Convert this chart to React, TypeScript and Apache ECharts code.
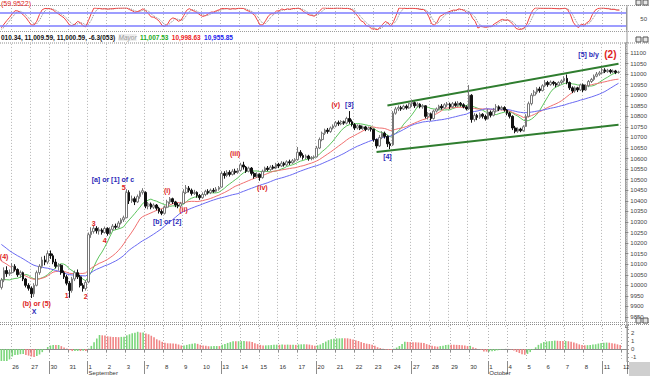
import React, { useEffect, useRef } from "react";
import * as echarts from "echarts";

// ---------- data ----------
const sessionDays = ["Aug 25","Aug 26","Aug 27","Aug 30","Aug 31","Sep 1","Sep 2","Sep 3","Sep 7","Sep 8","Sep 9","Sep 10","Sep 13","Sep 14","Sep 15","Sep 16","Sep 17","Sep 20","Sep 21","Sep 22","Sep 23","Sep 24","Sep 27","Sep 28","Sep 29","Sep 30","Oct 1","Oct 4","Oct 5","Oct 6","Oct 7","Oct 8","Oct 11","Oct 12"];
const sessionHours = ["09:30","10:30","11:30","12:30","13:30","14:30","15:30"];
const monthNames: Record<string, string> = { Sep: "September", Oct: "October" };
const weekStartDays = ["Aug 30","Sep 1","Sep 7","Sep 13","Sep 20","Sep 27","Oct 1","Oct 4","Oct 11"];

// hourly closes before the visible window (used for the indicator look-back)
const warmupCloses = [10420,10400,10410,10415,
  10390,10350,10320,10300,10290,10280,10271,
  10240,10220,10200,10190,10210,10205,10213,
  10240,10250,10230,10210,10200,10185,10174,
  10100,10080,10060,10070,10050,10045,10040,
  10000,9960,9950];

// hourly bars: [open, close, low, high]
const ohlc: number[][] = [
  // Aug 25
  [9990,10025,9980,10035],[10025,10070,10015,10085],[10070,10055,10040,10090],[10055,10060,10045,10075],
  // Aug 26
  [10060,10090,10055,10105],[10090,10075,10065,10100],[10075,10050,10040,10080],[10050,10060,10035,10070],[10060,10030,10020,10065],[10030,10000,9990,10035],[10000,9986,9975,10010],
  // Aug 27
  [9986,9960,9940,9995],[9960,10000,9945,10010],[10000,10060,9995,10070],[10060,10090,10050,10100],[10090,10120,10080,10135],[10120,10110,10095,10140],[10110,10150,10100,10165],
  // Aug 30
  [10150,10140,10125,10165],[10140,10110,10100,10150],[10110,10090,10080,10125],[10090,10095,10070,10105],[10095,10060,10050,10100],[10060,10040,10030,10070],[10040,10010,10000,10050],
  // Aug 31
  [10010,9975,9941,10020],[9975,10030,9965,10040],[10030,10060,10020,10070],[10060,10040,10030,10075],[10040,10000,9990,10050],[10000,9985,9970,10010],[9985,10014,9975,10025],
  // Sep 1
  [10016,10240,10010,10250],[10240,10255,10225,10275],[10255,10270,10245,10285],[10270,10258,10245,10280],[10258,10262,10240,10275],[10262,10250,10240,10270],[10250,10269,10245,10278],
  // Sep 2
  [10269,10245,10235,10275],[10245,10265,10240,10275],[10265,10280,10258,10290],[10280,10275,10265,10292],[10275,10295,10270,10305],[10295,10310,10288,10318],[10310,10320,10300,10330],
  // Sep 3
  [10320,10440,10318,10455],[10440,10400,10385,10450],[10400,10410,10390,10425],[10410,10395,10380,10420],[10395,10420,10390,10430],[10420,10440,10410,10448],[10440,10448,10430,10460],
  // Sep 7
  [10440,10375,10365,10445],[10375,10385,10360,10395],[10385,10370,10360,10392],[10370,10380,10362,10388],[10380,10365,10355,10385],[10365,10350,10340,10372],[10350,10341,10332,10360],
  // Sep 8
  [10341,10370,10335,10378],[10370,10395,10365,10405],[10395,10410,10385,10418],[10410,10395,10385,10415],[10395,10380,10370,10400],[10380,10375,10365,10390],[10375,10387,10368,10395],
  // Sep 9
  [10387,10440,10385,10455],[10440,10460,10432,10475],[10460,10450,10440,10470],[10450,10435,10425,10458],[10435,10440,10428,10452],[10440,10425,10415,10445],[10425,10415,10405,10432],
  // Sep 10
  [10415,10430,10410,10440],[10430,10445,10422,10452],[10445,10438,10430,10455],[10438,10450,10432,10458],[10450,10445,10438,10460],[10445,10455,10440,10465],[10455,10463,10448,10470],
  // Sep 13
  [10465,10530,10462,10540],[10530,10520,10505,10540],[10520,10535,10512,10545],[10535,10525,10515,10545],[10525,10540,10520,10550],[10540,10535,10525,10552],[10535,10544,10528,10555],
  // Sep 14
  [10544,10570,10538,10580],[10570,10560,10548,10585],[10560,10540,10532,10565],[10540,10555,10535,10562],[10555,10530,10520,10560],[10530,10515,10505,10538],[10515,10526,10508,10535],
  // Sep 15
  [10526,10510,10495,10530],[10510,10540,10505,10548],[10540,10555,10535,10562],[10555,10548,10540,10565],[10548,10560,10542,10568],[10560,10555,10548,10570],[10555,10573,10550,10580],
  // Sep 16
  [10573,10565,10555,10580],[10565,10578,10560,10588],[10578,10570,10562,10585],[10570,10585,10565,10592],[10585,10580,10570,10595],[10580,10590,10575,10598],[10590,10595,10582,10602],
  // Sep 17
  [10595,10630,10590,10655],[10630,10615,10605,10640],[10615,10605,10595,10625],[10605,10612,10598,10620],[10612,10600,10590,10618],[10600,10605,10592,10612],[10605,10608,10596,10615],
  // Sep 20
  [10608,10650,10605,10660],[10650,10690,10645,10700],[10690,10720,10682,10728],[10720,10735,10712,10742],[10735,10728,10718,10745],[10728,10745,10722,10752],[10745,10754,10738,10762],
  // Sep 21
  [10754,10770,10748,10778],[10770,10765,10755,10780],[10765,10775,10758,10782],[10775,10768,10760,10780],[10768,10790,10762,10798],[10790,10775,10765,10825],[10775,10761,10752,10785],
  // Sep 22
  [10761,10745,10735,10768],[10745,10755,10738,10762],[10755,10742,10735,10760],[10742,10750,10736,10756],[10750,10738,10730,10755],[10738,10745,10732,10752],[10745,10739,10728,10750],
  // Sep 23
  [10739,10690,10680,10742],[10690,10660,10648,10695],[10660,10700,10655,10712],[10700,10720,10692,10730],[10720,10705,10695,10728],[10705,10670,10655,10710],[10670,10662,10645,10680],
  // Sep 24
  [10665,10815,10660,10825],[10815,10835,10808,10845],[10835,10842,10825,10852],[10842,10835,10826,10850],[10835,10848,10830,10855],[10848,10840,10832,10856],[10840,10860,10836,10865],
  // Sep 27
  [10860,10865,10845,10880],[10865,10850,10840,10870],[10850,10858,10842,10866],[10858,10845,10838,10862],[10845,10850,10836,10858],[10850,10800,10790,10852],[10800,10812,10785,10820],
  // Sep 28
  [10812,10790,10780,10818],[10790,10825,10785,10832],[10825,10835,10818,10842],[10835,10848,10828,10855],[10848,10840,10832,10858],[10840,10855,10836,10862],[10855,10858,10845,10868],
  // Sep 29
  [10858,10845,10835,10865],[10845,10860,10840,10868],[10860,10852,10845,10870],[10852,10862,10846,10872],[10862,10855,10846,10868],[10855,10845,10838,10862],[10845,10835,10828,10852],
  // Sep 30
  [10835,10900,10830,10948],[10900,10785,10770,10905],[10785,10805,10775,10815],[10805,10795,10782,10812],[10795,10810,10788,10818],[10810,10800,10790,10815],[10800,10788,10780,10808],
  // Oct 1
  [10788,10820,10785,10835],[10820,10805,10795,10828],[10805,10825,10800,10840],[10825,10845,10818,10858],[10845,10835,10825,10852],[10835,10842,10828,10850],[10842,10830,10822,10848],
  // Oct 4
  [10830,10815,10805,10835],[10815,10800,10790,10822],[10800,10745,10735,10805],[10745,10730,10720,10755],[10730,10740,10722,10748],[10740,10732,10725,10746],[10732,10751,10728,10758],
  // Oct 5
  [10752,10800,10750,10810],[10800,10860,10795,10870],[10860,10900,10852,10910],[10900,10915,10895,10925],[10915,10930,10905,10938],[10930,10922,10912,10940],[10922,10945,10918,10952],
  // Oct 6
  [10945,10960,10938,10972],[10960,10950,10940,10968],[10950,10962,10945,10970],[10962,10955,10946,10968],[10955,10948,10938,10962],[10948,10960,10942,10966],[10960,10968,10952,10975],
  // Oct 7
  [10968,10980,10960,10990],[10980,10960,10952,10998],[10960,10935,10925,10965],[10935,10920,10910,10942],[10920,10935,10912,10942],[10935,10925,10915,10940],[10925,10949,10920,10955],
  // Oct 8
  [10949,10925,10915,10955],[10925,10945,10920,10952],[10945,10965,10938,10972],[10965,10975,10958,10982],[10975,10990,10968,10998],[10990,11000,10985,11010],[11000,11006,10992,11015],
  // Oct 11
  [11006,11020,11000,11032],[11020,11012,11005,11028],[11012,11018,11006,11025],[11018,11010,11002,11024],[11010,11015,11004,11022],[11015,11008,11000,11020],[11008,11010,11002,11016],
];

// moving-average periods (green, red, blue)
const maPeriods = [10, 20, 35];
const stochPeriod = 14;
const oscFast = 5;
const oscSlow = 35;

// trend channel end points: [bar index, price]
const channelUpper = [[142, 10851], [227, 11049]];
const channelLower = [[138, 10631], [227, 10760]];

// wave annotations: [bar index, price, text, colour key]
const waveLabels: [number, number, string, string][] = [
  [1, 10135, "(4)", "r"],
  [13, 9915, "(b) or (5)", "r"],
  [12, 9878, "X", "b"],
  [24, 9950, "1", "r"],
  [31, 9945, "2", "r"],
  [34, 10295, "3", "r"],
  [38, 10210, "4", "r"],
  [41, 10499, "[a] or [1] of c", "b"],
  [45, 10465, "5", "r"],
  [61, 10451, "(i)", "r"],
  [61, 10300, "[b] or [2]", "b"],
  [67, 10357, "(ii)", "r"],
  [86, 10622, "(iii)", "r"],
  [96, 10465, "(iv)", "r"],
  [123, 10858, "(v)", "r"],
  [128, 10858, "[3]", "b"],
  [142, 10612, "[4]", "b"],
  [216, 11095, "[5] b/y", "b"],
];
const bigLabel: [number, number, string] = [224, 11095, "(2)"];

const legendValues = ["010.34, 11,009.59, 11,000.59, -6.3(053)", "Mayor", "11,007.53", "10,998.63", "10,955.85"];
const headerValue = "(59.9522)";

// ---------- derived ----------
const categories: string[] = [];
sessionDays.forEach((d, k) => {
  const hrs = k === 0 ? sessionHours.slice(3) : k === sessionDays.length - 1 ? sessionHours.slice(0, 2) : sessionHours;
  hrs.forEach((h) => categories.push(`${d} ${h}`));
});
const isDayStart = (i: number) => !!categories[i] && categories[i].endsWith("09:30");
const isWeekStart = (i: number) => isDayStart(i) && weekStartDays.includes(categories[i].slice(0, -6));
const isMonthStart = (i: number) => isDayStart(i) && categories[i].split(" ")[1] === "1";

const closes = ohlc.map((b) => b[1]);
const allCloses = [...warmupCloses, ...closes];
const W = warmupCloses.length;
const pad = categories.length - ohlc.length;

function sma(n: number): number[] {
  return closes.map((_, i) => {
    const j = W + i;
    let s = 0;
    for (let k = j - n + 1; k <= j; k++) s += allCloses[k];
    return +(s / n).toFixed(2);
  });
}
function smooth(arr: (number | null)[], n: number): (number | null)[] {
  return arr.map((_, j) => {
    if (j < n - 1) return null;
    const w = arr.slice(j - n + 1, j + 1);
    if (w.some((x) => x == null)) return null;
    return (w as number[]).reduce((a, b) => a + b, 0) / n;
  });
}
const rawK: (number | null)[] = allCloses.map((c, j) => {
  if (j < stochPeriod - 1) return null;
  const win = allCloses.slice(j - stochPeriod + 1, j + 1);
  const lo = Math.min(...win), hi = Math.max(...win);
  return hi === lo ? 50 : ((c - lo) / (hi - lo)) * 100;
});
const kLine = smooth(rawK, 3);
const dLine = smooth(kLine, 3);
const kVis = kLine.slice(W).map((v) => (v == null ? "-" : +v.toFixed(2)));
const dVis = dLine.slice(W).map((v) => (v == null ? "-" : +v.toFixed(2)));

const maLines = maPeriods.map((p) => sma(p));
const fast = sma(oscFast), slow = sma(oscSlow);
const osc = fast.map((f, i) => +(((f - slow[i]) / slow[i]) * 100).toFixed(3));
const oscData = osc.map((v, i) => ({
  value: v,
  itemStyle: { color: i > 0 && v < osc[i - 1] ? "#f08484" : "#7bd67b" },
}));
const padArr = Array(pad).fill("-");

// ---------- layout ----------
const PLOT_RIGHT = 23;
const FONT = "Liberation Sans, Arial, sans-serif";
const RED = "#dd2222";
const BLUE = "#2a2ab8";
const GRID_LINE = { show: true, lineStyle: { color: "#b4b4b4", type: [1, 2] as any, width: 1 } };

function makeX(gridIndex: number, extra: any = {}) {
  return {
    type: "category",
    gridIndex,
    data: categories,
    boundaryGap: true,
    axisLine: { show: false },
    axisTick: { show: false },
    axisLabel: { show: false },
    splitLine: { ...GRID_LINE, interval: (i: number) => isDayStart(i) },
    ...extra,
  };
}

const hLine = (y: number, color = "#9c9c9c", dash: any = [1, 1]) => ({
  type: "line",
  z: 120,
  shape: { x1: 0, y1: y, x2: 650, y2: y },
  style: { stroke: color, lineWidth: 1, lineDash: dash },
});
const icon = (x: number, y: number) => ({
  type: "rect",
  z: 130,
  shape: { x, y, width: 5, height: 5 },
  style: { fill: "#e6e6e6", stroke: "#555", lineWidth: 1 },
});

const labelBase = { show: true, position: "inside", fontFamily: FONT, opacity: 1, textBorderWidth: 0 };
const waveData: any[] = waveLabels.map(([i, p, t, c]) => ({
  value: [i, p],
  name: t,
  label: {
    ...labelBase, formatter: () => t, fontSize: 7,
    color: c === "r" ? RED : BLUE, fontWeight: "bold",
  },
}));
waveData.push({
  value: [bigLabel[0], bigLabel[1]],
  name: bigLabel[2],
  label: { ...labelBase, formatter: () => bigLabel[2], fontSize: 10, color: RED, fontWeight: "bold" },
});

const option: any = {
  animation: false,
  backgroundColor: "#ffffff",
  textStyle: { fontFamily: FONT },
  grid: [
    { left: 0, right: PLOT_RIGHT, top: 8, height: 22 },
    { left: 0, right: PLOT_RIGHT, top: 31.88, height: 295.68 },
    { left: 0, right: PLOT_RIGHT, top: 325, height: 36 },
  ],
  xAxis: [
    makeX(0),
    makeX(1),
    makeX(2, {
      position: "bottom",
      axisLine: { show: true, lineStyle: { color: "#8c8c8c" } },
      axisTick: { show: true, length: 3, interval: (i: number) => isDayStart(i), lineStyle: { color: "#8c8c8c" } },
      axisLabel: {
        show: true,
        interval: (i: number) => isDayStart(i),
        formatter: (v: string) => v.split(" ")[1],
        align: "left",
        margin: 3,
        fontSize: 6,
        color: "#333",
        fontFamily: FONT,
      },
    }),
    {
      type: "category",
      gridIndex: 2,
      position: "bottom",
      offset: 0,
      data: categories,
      boundaryGap: true,
      axisLine: { show: false },
      axisTick: { show: true, length: 13, interval: (i: number) => isWeekStart(i), lineStyle: { color: "#8c8c8c" } },
      splitLine: { show: false },
      axisLabel: {
        show: true,
        interval: (i: number) => isMonthStart(i),
        formatter: (v: string) => monthNames[v.split(" ")[0]] || "",
        align: "left",
        margin: 9,
        fontSize: 6,
        color: "#333",
        fontFamily: FONT,
      },
    },
  ],
  yAxis: [
    {
      type: "value", gridIndex: 0, position: "right", min: 0, max: 100, interval: 50,
      axisLine: { show: true, lineStyle: { color: "#999" } },
      axisTick: { show: false },
      splitLine: { show: false },
      axisLabel: { fontSize: 6, color: "#444", margin: 14, formatter: (v: number) => (v === 50 ? "50" : "") },
    },
    {
      type: "value", gridIndex: 1, position: "right", min: 9800, max: 11200, interval: 50,
      axisLine: { show: true, lineStyle: { color: "#999" } },
      axisTick: { show: true, length: 3, lineStyle: { color: "#777" } },
      minorTick: { show: true, splitNumber: 5, length: 1.5, lineStyle: { color: "#aaa" } },
      splitLine: { show: false },
      axisLabel: {
        fontSize: 6, color: "#444", margin: 5, fontFamily: FONT,
        formatter: (v: number) => (v >= 9850 && v <= 11100 ? String(v) : ""),
      },
    },
    {
      type: "value", gridIndex: 2, position: "right", min: -1.5, max: 3, interval: 0.5,
      axisLine: { show: true, lineStyle: { color: "#999" } },
      axisTick: { show: true, length: 2, lineStyle: { color: "#999" } },
      splitLine: { show: false },
      axisLabel: {
        fontSize: 6, color: "#444", margin: 4, fontFamily: FONT,
        formatter: (v: number) => (Number.isInteger(v) && v < 3 ? String(v) : ""),
      },
    },
  ],
  series: [
    {
      name: "%K", type: "line", xAxisIndex: 0, yAxisIndex: 0, data: [...kVis, ...padArr],
      symbol: "none", lineStyle: { color: "#ee4444", width: 1 }, z: 4,
      markLine: {
        silent: true, symbol: ["none", "none"], label: { show: false },
        lineStyle: { color: "#7c7cff", width: 1.5, type: "solid" },
        data: [{ yAxis: 80 }, { yAxis: 20 }],
      },
    },
    {
      name: "%D", type: "line", xAxisIndex: 0, yAxisIndex: 0, data: [...dVis, ...padArr],
      symbol: "none", lineStyle: { color: "#888", width: 1, type: [1, 1] }, z: 3,
    },
    {
      name: "Price", type: "candlestick", xAxisIndex: 1, yAxisIndex: 1,
      data: [...ohlc, ...padArr],
      barWidth: 2.2,
      itemStyle: { color: "#ffffff", color0: "#111111", borderColor: "#777777", borderColor0: "#111111", borderWidth: 1 },
      z: 5,
      markLine: {
        silent: true, symbol: ["none", "none"], label: { show: false },
        lineStyle: { color: "#2f7d2f", width: 2, type: "solid" },
        data: [
          [{ coord: [channelUpper[0][0], channelUpper[0][1]] }, { coord: [channelUpper[1][0], channelUpper[1][1]] }],
          [{ coord: [channelLower[0][0], channelLower[0][1]] }, { coord: [channelLower[1][0], channelLower[1][1]] }],
        ],
      },
    },
    ...maLines.map((d, k) => ({
      name: `MA${maPeriods[k]}`, type: "line", xAxisIndex: 1, yAxisIndex: 1,
      data: [...d, ...padArr], symbol: "none", z: 4,
      lineStyle: { width: 1, color: ["#5cc45c", "#f07070", "#6a6af2"][k] },
    })),
    {
      name: "waves", type: "scatter", xAxisIndex: 1, yAxisIndex: 1, symbolSize: 2, z: 8,
      itemStyle: { color: "rgba(0,0,0,0)", opacity: 1 },
      data: waveData,
    },
    {
      name: "Osc", type: "bar", xAxisIndex: 2, yAxisIndex: 2,
      data: [...oscData, ...padArr], barWidth: 1.6, z: 3,
    },
  ],
  graphic: [
    { type: "rect", z: 110, shape: { x: 0, y: 31.5, width: 650, height: 11 }, style: { fill: "#ffffff" } },
    { type: "rect", z: 110, shape: { x: 0, y: 322, width: 627, height: 3 }, style: { fill: "#ffffff" } },
    { type: "rect", z: 110, shape: { x: 628, y: 0, width: 22, height: 7 }, style: { fill: "#ffffff" } },
    hLine(5.5), hLine(31.5), hLine(43, "#8c8c8c"), hLine(322.5), hLine(324.5, "#8c8c8c"),
    { type: "line", z: 120, shape: { x1: 627, y1: 5, x2: 627, y2: 362 }, style: { stroke: "#999", lineWidth: 1 } },
    { type: "rect", z: 125, shape: { x: 629, y: 362, width: 21, height: 14 }, style: { fill: "#cfcfcf" } },
    icon(636, 0), icon(643, 0), icon(636, 37), icon(643, 37), icon(636, 318), icon(643, 318),
    {
      type: "text", z: 130, x: 1, y: 0,
      style: { text: headerValue, fill: RED, fontSize: 7, fontFamily: FONT, textVerticalAlign: "top" },
    },
    {
      type: "text", z: 130, x: 1, y: 37.5,
      style: {
        text: `{k|${legendValues[0]}} {m|${legendValues[1]}} {g|${legendValues[2]}} {r|${legendValues[3]}} {b|${legendValues[4]}}`,
        textVerticalAlign: "middle",
        fontFamily: FONT,
        rich: {
          k: { fontSize: 6.5, fill: "#111", fontWeight: "bold", fontFamily: FONT },
          m: { fontSize: 6.5, fill: "#999", fontStyle: "italic", fontFamily: FONT, backgroundColor: "#eeeeee" },
          g: { fontSize: 6.5, fill: "#22aa22", fontWeight: "bold", fontFamily: FONT },
          r: { fontSize: 6.5, fill: "#ee2222", fontWeight: "bold", fontFamily: FONT },
          b: { fontSize: 6.5, fill: "#2222ee", fontWeight: "bold", fontFamily: FONT },
        },
      },
    },
  ],
};

export default function App() {
  const ref = useRef<HTMLDivElement>(null);
  useEffect(() => {
    const chart = echarts.init(ref.current!, undefined, { renderer: "svg" });
    chart.setOption(option);
    return () => chart.dispose();
  }, []);
  return (
    <div
      ref={ref}
      style={{ position: "fixed", left: 0, top: 0, width: 650, height: 376, background: "#fff" }}
    />
  );
}
